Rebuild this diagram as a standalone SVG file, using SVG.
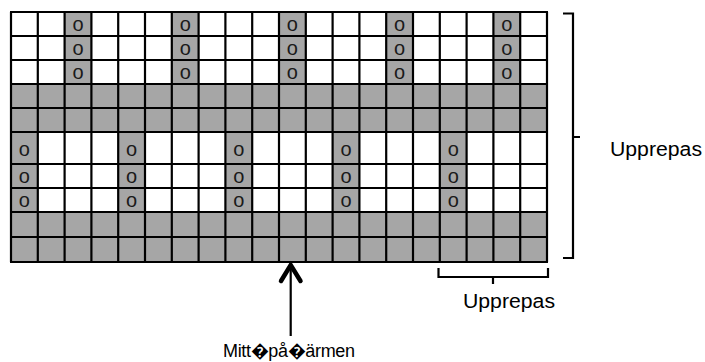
<svg xmlns="http://www.w3.org/2000/svg" width="705" height="362" viewBox="0 0 705 362">
<style>
.g{fill:#a6a6a6}
.ln{stroke:#000;stroke-width:2.2;fill:none}
.br{stroke:#000;stroke-width:2.2;fill:none}
.o{font-family:"Liberation Sans",Arial,sans-serif;font-size:20px;fill:#1a1a1a;text-anchor:middle}
.lbl{font-family:"Liberation Sans",Arial,sans-serif;font-size:20px;fill:#000}
</style>
<rect width="705" height="362" fill="#fff"/>
<g id="grid">
<rect x="11" y="12" width="536" height="250" fill="#fff"/>
<rect class="g" x="11" y="84" width="536" height="48"/>
<rect class="g" x="11" y="212" width="536" height="50"/>
<rect class="g" x="64.6" y="12" width="26.8" height="72"/>
<rect class="g" x="171.8" y="12" width="26.8" height="72"/>
<rect class="g" x="279" y="12" width="26.8" height="72"/>
<rect class="g" x="386.2" y="12" width="26.8" height="72"/>
<rect class="g" x="493.4" y="12" width="26.8" height="72"/>
<rect class="g" x="11" y="132" width="26.8" height="80"/>
<rect class="g" x="118.2" y="132" width="26.8" height="80"/>
<rect class="g" x="225.4" y="132" width="26.8" height="80"/>
<rect class="g" x="332.6" y="132" width="26.8" height="80"/>
<rect class="g" x="439.8" y="132" width="26.8" height="80"/>
<path class="ln" d="M11,12V262M37.8,12V262M64.6,12V262M91.4,12V262M118.2,12V262M145,12V262M171.8,12V262M198.6,12V262M225.4,12V262M252.2,12V262M279,12V262M305.8,12V262M332.6,12V262M359.4,12V262M386.2,12V262M413,12V262M439.8,12V262M466.6,12V262M493.4,12V262M520.2,12V262M547,12V262"/>
<path class="ln" d="M10,12H548M10,36H548M10,60H548M10,84H548M10,108H548M10,132H548M10,164H548M10,188H548M10,212H548M10,237H548M10,262H548"/>
<g class="o">
<text x="78" y="31">o</text><text x="78" y="55">o</text><text x="78" y="79">o</text>
<text x="185.2" y="31">o</text><text x="185.2" y="55">o</text><text x="185.2" y="79">o</text>
<text x="292.4" y="31">o</text><text x="292.4" y="55">o</text><text x="292.4" y="79">o</text>
<text x="399.6" y="31">o</text><text x="399.6" y="55">o</text><text x="399.6" y="79">o</text>
<text x="506.8" y="31">o</text><text x="506.8" y="55">o</text><text x="506.8" y="79">o</text>
<text x="24.4" y="156">o</text><text x="24.4" y="183">o</text><text x="24.4" y="207">o</text>
<text x="131.6" y="156">o</text><text x="131.6" y="183">o</text><text x="131.6" y="207">o</text>
<text x="238.8" y="156">o</text><text x="238.8" y="183">o</text><text x="238.8" y="207">o</text>
<text x="346" y="156">o</text><text x="346" y="183">o</text><text x="346" y="207">o</text>
<text x="453.2" y="156">o</text><text x="453.2" y="183">o</text><text x="453.2" y="207">o</text>
</g>
</g>
<g id="connectors">
<path class="br" d="M563,13.5H573V258H563M573,137H580"/>
<path class="br" d="M438.5,268V277H548V268M493,277V284"/>
<path d="M290.7,266V336" stroke="#000" stroke-width="2.2" fill="none"/>
<path d="M281,281L290.7,265L300.5,281" stroke="#000" stroke-width="4.5" fill="none" stroke-linecap="round" stroke-linejoin="miter"/>
</g>
<g id="labels">
<text class="lbl" x="610" y="156" textLength="92" lengthAdjust="spacingAndGlyphs">Upprepas</text>
<text class="lbl" x="463" y="308" textLength="92" lengthAdjust="spacingAndGlyphs">Upprepas</text>
<text class="lbl" x="223" y="357" style="font-size:18px" textLength="132" lengthAdjust="spacing">Mitt�på�ärmen</text>
</g>
</svg>
